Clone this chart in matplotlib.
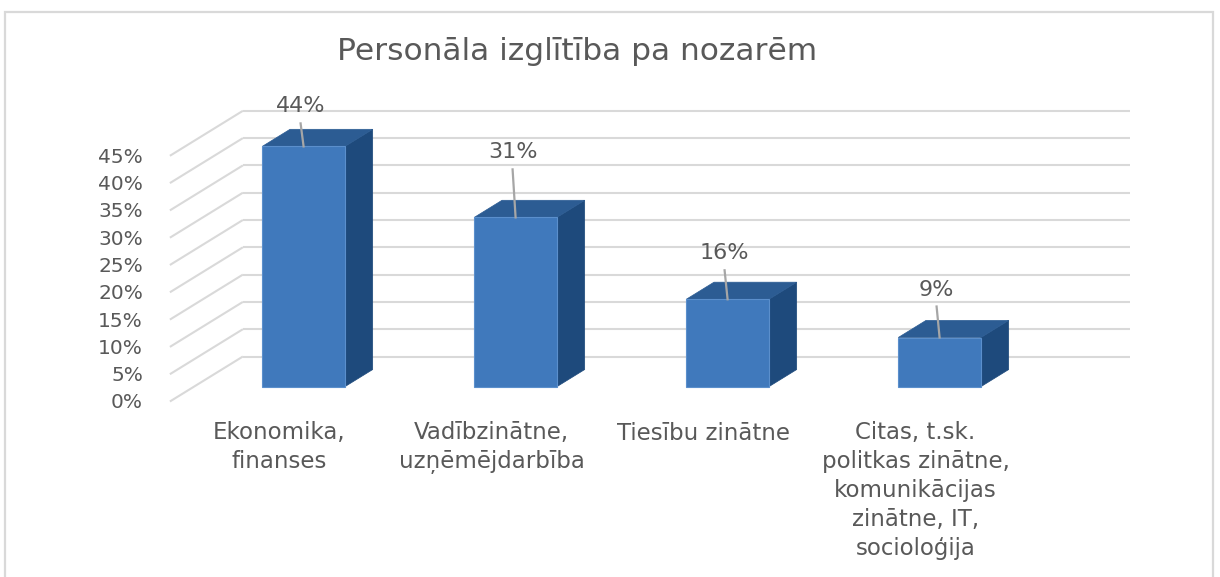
import matplotlib
matplotlib.use("Agg")
import matplotlib.pyplot as plt
from matplotlib.patches import Polygon, Rectangle

# ---- data ----
title = "Personāla izglītība pa nozarēm"
categories = [
    "Ekonomika,\nfinanses",
    "Vadībzinātne,\nuzņēmējdarbība",
    "Tiesību zinātne",
    "Citas, t.sk.\npolitkas zinātne,\nkomunikācijas\nzinātne, IT,\nsocioloģija",
]
values = [44, 31, 16, 9]
value_labels = ["44%", "31%", "16%", "9%"]
y_ticks = [0, 5, 10, 15, 20, 25, 30, 35, 40, 45]
y_tick_labels = ["0%", "5%", "10%", "15%", "20%", "25%", "30%", "35%", "40%", "45%"]

# ---- layout (pixels) ----
W, H = 1220, 577
PX_CAT = 212.0      # pixels per category step
PX_PCT = 5.46       # pixels per percent
ORIGIN_X, ORIGIN_Y = 279.5, 401.5   # pixel of (cat 0, 0%, front of floor)
DEPTH_DX_PX, DEPTH_DY_PX = 73.0, 45.0
DX = DEPTH_DX_PX / PX_CAT
DY = DEPTH_DY_PX / PX_PCT
WALL_LEFT, WALL_RIGHT = -0.517, 3.667
BAR_HALF = 0.195
BAR_D0, BAR_D1 = 0.33, 0.71
label_lift_px = [40, 65, 46, 48]

FRONT = "#4079BC"
TOP = "#2C5C93"
SIDE = "#1E4A7C"
GRID = "#D9D9D9"
TEXT = "#595959"
FONT = ["DejaVu Sans"]


def P(c, p, d):
    return (c + d * DX, p + d * DY)


fig = plt.figure(figsize=(W / 100, H / 100), dpi=100)
ax = fig.add_axes([0, 0, 1, 1])
ax.set_xlim(-ORIGIN_X / PX_CAT, (W - ORIGIN_X) / PX_CAT)
ax.set_ylim((ORIGIN_Y - H) / PX_PCT, ORIGIN_Y / PX_PCT)
ax.axis("off")

# chart border
fig.patches.append(Rectangle((5 / W, -0.05), (1213 - 5) / W, 1.05 - 12 / H,
                             transform=fig.transFigure, fill=False,
                             edgecolor="#D9D9D9", linewidth=1.6))

# back wall + side wall gridlines
for p in y_ticks:
    x0, y0 = P(WALL_LEFT, p, 1)
    x1, y1 = P(WALL_RIGHT, p, 1)
    ax.plot([x0, x1], [y0, y1], color=GRID, lw=1.5, zorder=1, solid_capstyle="butt")
    x2, y2 = P(WALL_LEFT, p, 0)
    ax.plot([x0, x2], [y0, y2], color=GRID, lw=1.5, zorder=1, solid_capstyle="butt")

# y tick labels
for p, lab in zip(y_ticks, y_tick_labels):
    x, y = P(WALL_LEFT, p, 0)
    ax.text(x - 27 / PX_CAT, y - 1.5 / PX_PCT, lab, ha="right", va="center",
            fontsize=14.5, color=TEXT, family=FONT)

# bars
for i, v in enumerate(values):
    c = i
    front = [P(c - BAR_HALF, 0, BAR_D0), P(c + BAR_HALF, 0, BAR_D0),
             P(c + BAR_HALF, v, BAR_D0), P(c - BAR_HALF, v, BAR_D0)]
    side = [P(c + BAR_HALF, 0, BAR_D0), P(c + BAR_HALF, 0, BAR_D1),
            P(c + BAR_HALF, v, BAR_D1), P(c + BAR_HALF, v, BAR_D0)]
    top = [P(c - BAR_HALF, v, BAR_D0), P(c + BAR_HALF, v, BAR_D0),
           P(c + BAR_HALF, v, BAR_D1), P(c - BAR_HALF, v, BAR_D1)]
    ax.add_patch(Polygon(side, closed=True, facecolor=SIDE, edgecolor=SIDE, lw=0.5, zorder=3))
    ax.add_patch(Polygon(top, closed=True, facecolor=TOP, edgecolor=TOP, lw=0.5, zorder=3))
    ax.add_patch(Polygon(front, closed=True, facecolor=FRONT, edgecolor="#5B8FCC", lw=0.8, zorder=4))

    # data label + leader line
    bx, by = P(c, v, BAR_D0)
    lift = label_lift_px[i] / PX_PCT
    ax.plot([bx - 3 / PX_CAT, bx], [by + lift - 17 / PX_PCT, by], color="#A6A6A6",
            lw=1.6, zorder=5)
    ax.text(bx - 3 / PX_CAT, by + lift, value_labels[i], ha="center", va="center",
            fontsize=16, color=TEXT, family=FONT, zorder=6)

# category labels
for i, lab in enumerate(categories):
    x, y = P(i, 0, 0)
    ax.text(x, y - 20 / PX_PCT, lab, ha="center", va="top", fontsize=16.5,
            color=TEXT, family=FONT, linespacing=1.33)

# title
ax.text((577 - ORIGIN_X) / PX_CAT, (ORIGIN_Y - 52) / PX_PCT, title, ha="center",
        va="center", fontsize=22.5, color=TEXT, family=FONT)

fig.savefig("out.png", dpi=100)
